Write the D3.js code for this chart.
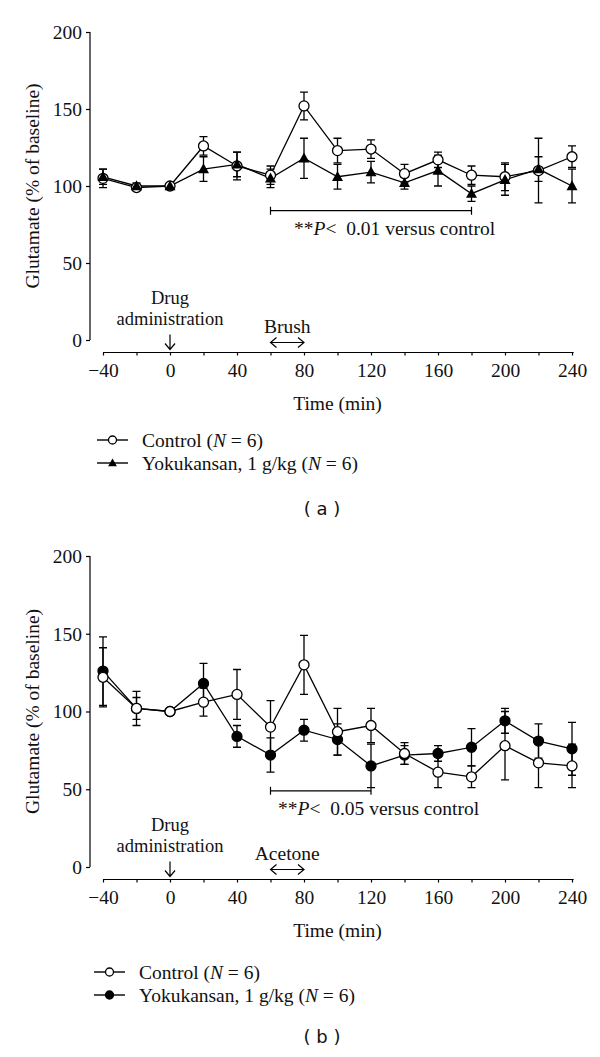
<!DOCTYPE html>
<html><head><meta charset="utf-8">
<script src="https://cdn.jsdelivr.net/npm/d3@7/dist/d3.min.js"></script>
<style>body{margin:0;background:#fff}svg{display:block}</style>
</head><body><svg id="c" width="600" height="1057"></svg>
<script>
const times = [-40,-20,0,20,40,60,80,100,120,140,160,180,200,220,240];
const xTicks = [-40,0,40,80,120,160,200,240];
const yTicks = [0,50,100,150,200];

const ctrlA    = [105, 99,100,126,113,107,152,123,124,108,117,107,106,110,119];
const ctrlAErr = [  6,  2,  1,  6,  9,  6,  9,  8,  6,  6,  5,  6,  9, 21,  7];
const yokuA    = [106,100,100,111,114,105,118,106,109,102,110, 95,104,111,100];
const yokuAErr = [  5,  2,  2,  8,  8,  6, 13,  8,  7,  4, 10,  5, 10,  8, 11];

const ctrlB    = [122,102,100,106,111, 90,130, 87, 91, 73, 61, 58, 78, 67, 65];
const ctrlBErr = [ 19, 11,  1,  9, 16, 17, 19, 15, 11,  7, 10,  7, 22, 16, 14];
const yokuB    = [126,102,100,118, 84, 72, 88, 82, 65, 72, 73, 77, 94, 81, 76];
const yokuBErr = [ 22,  7,  1, 13,  7, 11,  7, 10, 14,  6,  5, 12,  8, 11, 17];

const svg = d3.select("#c");
const SERIF = "'Liberation Serif','DejaVu Serif',serif";
const FS = 19.5;

function drawPanel(o) {
  const g = svg.append("g");
  const x = d3.scaleLinear().domain([-40,240]).range([103,572]);
  const y = d3.scaleLinear().domain([0,200]).range([o.y0, o.y200]);
  const axY = o.y0 + 12.5;

  // y axis
  const ya = g.append("g").attr("transform","translate(90,0)")
    .call(d3.axisLeft(y).tickValues(yTicks).tickSize(4).tickPadding(4));
  ya.select(".domain").attr("d", `M0,${y(200)}V${y(0)}`).attr("stroke","#000").attr("stroke-width",1.2);
  ya.selectAll("line").attr("stroke","#000").attr("stroke-width",1.2);
  ya.selectAll("text").attr("font-family",SERIF).attr("font-size",FS).attr("fill","#111");

  // x axis
  const xa = g.append("g").attr("transform",`translate(0,${axY})`)
    .call(d3.axisBottom(x).tickValues(d3.range(-40,241,20)).tickSize(3).tickPadding(8)
      .tickFormat(d => xTicks.includes(d) ? (d<0 ? "\u2212"+Math.abs(d) : d) : ""));
  xa.select(".domain").attr("d", `M${x(-40)},0H${x(241)}`).attr("stroke","#000").attr("stroke-width",1.2);
  xa.selectAll("line").attr("stroke","#000").attr("stroke-width",1.2);
  xa.selectAll("text").attr("font-family",SERIF).attr("font-size",FS).attr("fill","#111");

  // axis titles
  g.append("text").attr("transform",`translate(39,${(y(0)+y(200))/2}) rotate(-90)`)
    .attr("text-anchor","middle").attr("font-family",SERIF).attr("font-size",FS).attr("fill","#111")
    .text("Glutamate (% of baseline)");
  g.append("text").attr("x",x(100)).attr("y",axY+57.5).attr("text-anchor","middle")
    .attr("font-family",SERIF).attr("font-size",FS).attr("fill","#111").text("Time (min)");

  // drug administration
  g.append("text").attr("x",x(0)).attr("y",axY-49).attr("text-anchor","middle")
    .attr("font-family",SERIF).attr("font-size",18.5).attr("fill","#111").text("Drug");
  g.append("text").attr("x",x(0)).attr("y",axY-28).attr("text-anchor","middle")
    .attr("font-family",SERIF).attr("font-size",18.5).attr("fill","#111").text("administration");
  const ar = g.append("g").attr("stroke","#000").attr("stroke-width",1.2).attr("fill","none");
  ar.append("path").attr("d",`M${x(0)},${axY-18}V${axY-3}M${x(0)-5},${axY-9}L${x(0)},${axY-3}L${x(0)+5},${axY-9}`);
  // stimulus
  g.append("text").attr("x",(x(60)+x(80))/2).attr("y",axY-20).attr("text-anchor","middle")
    .attr("font-family",SERIF).attr("font-size",FS).attr("fill","#111").text(o.stim);
  const ay = axY-10;
  ar.append("path").attr("d",`M${x(60)},${ay}H${x(80)}M${x(60)+6},${ay-5}L${x(60)},${ay}L${x(60)+6},${ay+5}M${x(80)-6},${ay-5}L${x(80)},${ay}L${x(80)-6},${ay+5}`);

  // significance bracket
  const by = y(o.brY);
  g.append("path").attr("d",`M${x(60)},${by-4}V${by+4}M${x(60)},${by}H${x(o.brEnd)}M${x(o.brEnd)},${by-4}V${by+4}`)
    .attr("stroke","#000").attr("stroke-width",1.2).attr("fill","none");
  const st = g.append("text").attr("x",o.sigX).attr("y",by+24)
    .attr("font-family",SERIF).attr("font-size",FS).attr("fill","#111");
  st.append("tspan").text("**");
  st.append("tspan").attr("font-style","italic").text("P");
  st.append("tspan").text("<\u2002" + o.p + " versus control");

  // series
  const series = o.series;
  const line = d3.line().x((d,i)=>x(times[i])).y(d=>y(d));
  series.forEach(s => {
    g.append("path").datum(s.v).attr("d",line).attr("fill","none").attr("stroke","#000").attr("stroke-width",1.3);
  });
  series.forEach(s => {
    const eb = g.append("g").attr("stroke","#000").attr("stroke-width",1.3);
    s.v.forEach((v,i) => {
      const cx = x(times[i]), t = y(v+s.e[i]), b = y(v-s.e[i]);
      eb.append("path").attr("d",`M${cx},${t}V${b}M${cx-4},${t}H${cx+4}M${cx-4},${b}H${cx+4}`);
    });
  });
  series.forEach(s => {
    const mg = g.append("g");
    s.v.forEach((v,i) => drawMarker(mg, s.m, x(times[i]), y(v)));
  });

  // legend
  o.legend.forEach((s,k) => {
    const ly = o.legY + k*23;
    g.append("path").attr("d",`M${o.legX},${ly}H${o.legX+31}`).attr("stroke","#000").attr("stroke-width",1.4);
    drawMarker(g, s.m, o.legX+15.5, ly, 0.8);
    const t = g.append("text").attr("x",o.legX+45).attr("y",ly+6.5)
      .attr("font-family",SERIF).attr("font-size",FS).attr("fill","#111");
    t.append("tspan").text(s.name + " (");
    t.append("tspan").attr("font-style","italic").text("N");
    t.append("tspan").text(" = 6)");
  });

  svg.append("text").attr("x",322).attr("y",o.labY).attr("text-anchor","middle")
    .attr("font-family","'DejaVu Sans','Liberation Sans',sans-serif").attr("font-size",18).attr("fill","#111")
    .text("( " + o.lab + " )");
}

function drawMarker(g, m, cx, cy, sc=1) {
  if (m === "open") {
    g.append("circle").attr("cx",cx).attr("cy",cy).attr("r",5*sc).attr("fill","#fff").attr("stroke","#000").attr("stroke-width",1.3);
  } else if (m === "filled") {
    g.append("circle").attr("cx",cx).attr("cy",cy).attr("r",5*sc).attr("fill","#000").attr("stroke","#000").attr("stroke-width",1.3);
  } else {
    const s = 5.5*sc;
    g.append("path").attr("d",`M${cx},${cy-s*1.05}L${cx+s},${cy+s*0.75}L${cx-s},${cy+s*0.75}Z`).attr("fill","#000");
  }
}

const serA = [{name:"Control", v:ctrlA, e:ctrlAErr, m:"open"},
              {name:"Yokukansan, 1 g/kg", v:yokuA, e:yokuAErr, m:"tri"}];
const serB = [{name:"Control", v:ctrlB, e:ctrlBErr, m:"open"},
              {name:"Yokukansan, 1 g/kg", v:yokuB, e:yokuBErr, m:"filled"}];

drawPanel({y0:340, y200:32, stim:"Brush", brY:84, brEnd:180, sigX:294, p:"0.01",
  series:serA, legend:serA, legX:97, legY:440, labY:515, lab:"a"});
drawPanel({y0:867, y200:556, stim:"Acetone", brY:49, brEnd:120, sigX:278, p:"0.05",
  series:[serB[1], serB[0]], legend:serB, legX:94, legY:972, labY:1043, lab:"b"});
</script></body></html>
